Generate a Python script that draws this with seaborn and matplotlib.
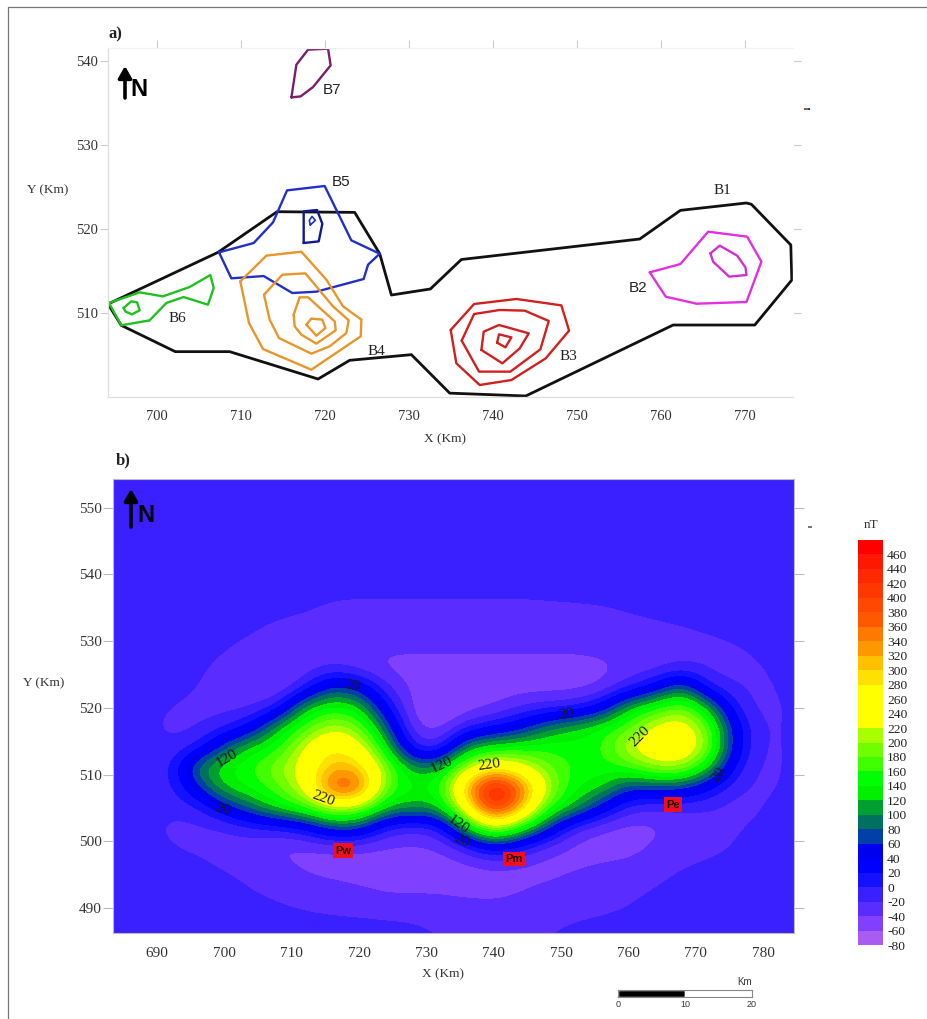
import numpy as np
import seaborn as sns
import matplotlib.pyplot as plt
from matplotlib.colors import BoundaryNorm, ListedColormap
from matplotlib.patches import FancyArrowPatch, Rectangle
from matplotlib.lines import Line2D

W, H = 928, 1019

# panel a: anomaly outlines, x and y in km
outline_x = [694.17, 707.26, 714.29, 723.53, 726.51, 727.9, 732.54, 736.23, 757.46, 762.3, 770.16, 770.75, 775.44,
             775.56, 771.15, 761.43, 743.89, 734.84, 730.28, 722.94, 719.17, 708.65, 702.18, 695.75, 694.17]
outline_y = [511.07, 517.22, 522.06, 521.98, 517.06, 512.14, 512.86, 516.37, 518.81, 522.22, 523.1, 522.94, 518.1,
             513.93, 508.57, 508.57, 500.12, 500.46, 505.04, 504.37, 502.14, 505.4, 505.4, 508.53, 511.07]
b7_x = [716.0, 717.1, 718.57, 720.67, 720.36, 717.98, 716.59]
b7_y = [535.67, 535.79, 536.9, 539.48, 541.47, 541.35, 539.56]
b5_x = [707.38, 711.51, 713.81, 715.48, 719.96, 723.13, 726.51, 725.12, 724.6, 718.97, 716.11, 712.7, 708.85]
b5_y = [517.22, 518.33, 520.79, 524.6, 525.12, 518.65, 517.06, 515.75, 514.05, 512.54, 512.38, 514.4, 514.13]
b5_in_x = [717.46, 719.25, 719.68, 719.05, 717.46]
b5_in_y = [518.33, 518.53, 520.63, 522.26, 522.1]
b5_core_x = [718.25, 718.85, 718.45, 718.13]
b5_core_y = [520.48, 521.03, 521.5, 521.03]
b6_x = [694.29, 697.94, 700.71, 703.89, 706.35, 706.75, 706.07, 703.17, 701.11, 699.13, 695.75]
b6_y = [511.19, 512.46, 511.98, 513.1, 514.52, 512.98, 510.99, 511.9, 511.19, 509.13, 508.53]
b6_in_x = [696.03, 696.94, 697.62, 697.94, 697.02, 696.27]
b6_in_y = [510.6, 511.39, 511.27, 510.32, 509.84, 510.16]
b4_1_x = [709.92, 713.02, 717.18, 720.16, 722.14, 724.33, 724.25, 718.37, 712.62, 710.95]
b4_1_y = [513.77, 516.83, 517.3, 513.97, 510.79, 509.21, 507.22, 503.25, 505.71, 508.81]
b4_2_x = [712.74, 714.92, 717.66, 720.95, 722.82, 722.54, 720.56, 718.37, 714.52, 713.41]
b4_2_y = [512.18, 514.56, 514.72, 510.79, 509.13, 507.62, 506.03, 505.16, 507.02, 509.21]
b4_3_x = [716.27, 716.98, 717.98, 721.15, 721.27, 718.97, 717.18, 716.39]
b4_3_y = [509.8, 511.87, 511.87, 509.0, 507.94, 506.35, 507.42, 508.41]
b4_4_x = [717.78, 718.37, 719.68, 720.04, 718.97]
b4_4_y = [508.61, 509.33, 509.21, 508.21, 507.3]
b3_1_x = [734.96, 737.74, 742.78, 748.13, 749.05, 746.27, 742.18, 738.41, 735.63]
b3_1_y = [507.98, 511.07, 511.67, 510.91, 507.9, 504.6, 502.02, 501.43, 504.01]
b3_2_x = [736.27, 737.74, 740.79, 743.77, 746.63, 745.63, 742.06, 738.33]
b3_2_y = [506.71, 509.88, 510.36, 510.28, 509.05, 505.67, 503.02, 503.02]
b3_3_x = [738.61, 738.89, 740.71, 744.25, 743.17, 741.11]
b3_3_y = [505.6, 507.78, 508.57, 507.58, 505.79, 504.01]
b3_4_x = [740.48, 740.71, 742.18, 741.47]
b3_4_y = [506.47, 507.46, 507.1, 505.91]
b2_x = [758.65, 762.3, 765.6, 770.24, 771.94, 770.16, 764.21, 760.56]
b2_y = [514.84, 515.83, 519.68, 519.09, 516.11, 511.31, 511.11, 511.94]
b2_in_x = [765.87, 766.98, 769.05, 770.04, 770.16, 768.1, 766.19]
b2_in_y = [517.1, 518.02, 516.83, 515.44, 514.52, 514.33, 516.11]

# panel b: field in nT, rows from north to south
grid_x = np.arange(684, 785, 4)
grid_y = np.arange(553, 486, -3)
row_553 = [-10] * 26
row_550 = [-10] * 26
row_547 = [-10] * 26
row_544 = [-10] * 26
row_541 = [-10] * 26
row_538 = [-10, -10, -10, -10, -10, -10, -10, -11, -13, -14, -14, -14, -14, -14, -14, -14, -13, -12, -11, -10, -10, -10, -10, -10, -10, -10]
row_535 = [-10, -10, -10, -10, -10, -10, -13, -17, -24, -25, -25, -25, -25, -25, -25, -25, -24, -23, -22, -18, -14, -11, -10, -10, -10, -10]
row_532 = [-10, -10, -10, -10, -12, -17, -25, -28, -29, -30, -30, -30, -30, -30, -30, -30, -30, -29, -27, -26, -24, -21, -16, -12, -10, -10]
row_529 = [-10, -10, -10, -12, -18, -26, -30, -33, -35, -36, -36, -35, -35, -35, -35, -35, -35, -35, -33, -30, -30, -29, -27, -22, -14, -10]
row_526 = [-10, -10, -11, -17, -25, -35, -42, -34, -21, -32, -46, -50, -50, -50, -50, -50, -50, -50, -47, -36, -32, -18, -26, -28, -21, -11]
row_523 = [-10, -10, -13, -20, -28, -32, -46, -5, 75, 50, -15, -47, -55, -52, -52, -50, -50, -50, -42, -8, 30, 100, -5, -20, -26, -13]
row_520 = [-10, -11, -21, -25, -28, -27, 0, 125, 150, 135, 25, -48, -72, -52, -42, -20, -10, -3, 30, 125, 160, 195, 120, -5, -29, -16]
row_517 = [-10, -14, -26, -24, -6, 30, 125, 170, 220, 190, 85, -40, -50, -2, 20, 45, 100, 125, 150, 175, 235, 255, 185, 30, -27, -16]
row_514 = [-8, -9, -17, 0, 80, 135, 150, 230, 285, 250, 135, -5, -20, 110, 140, 150, 155, 150, 155, 225, 265, 270, 200, 30, -28, -16]
row_511 = [-8, -9, -12, 105, 140, 160, 200, 240, 320, 310, 200, 105, 115, 215, 280, 240, 185, 155, 150, 160, 205, 210, 125, 5, -28, -16]
row_508 = [-8, -9, -11, 50, 130, 145, 175, 230, 385, 385, 175, 145, 150, 320, 480, 370, 215, 140, 130, 60, 65, 60, 20, -18, -26, -15]
row_505 = [-8, -9, -17, -8, 40, 90, 135, 165, 220, 205, 120, 110, 115, 260, 440, 330, 160, 120, 45, -15, -23, -20, -20, -30, -20, -10]
row_502 = [-8, -13, -25, -26, -24, -10, -3, 15, 70, 70, -8, -22, -8, 120, 225, 150, 65, -22, -42, -50, -45, -33, -30, -22, -14, -10]
row_499 = [-8, -10, -19, -24, -28, -32, -46, -47, -43, -43, -45, -44, -43, -15, 30, 0, -35, -50, -50, -50, -35, -30, -27, -18, -10, -10]
row_496 = [-8, -9, -10, -14, -22, -28, -30, -44, -48, -50, -50, -50, -50, -50, -45, -48, -50, -42, -36, -32, -27, -20, -14, -10, -10, -10]
row_493 = [-8, -9, -10, -10, -11, -21, -27, -30, -34, -38, -44, -44, -43, -47, -48, -42, -35, -30, -28, -25, -20, -13, -10, -10, -10, -10]
row_490 = [-8, -9, -10, -10, -10, -12, -17, -22, -26, -28, -30, -31, -33, -33, -35, -33, -30, -29, -26, -20, -13, -10, -10, -10, -10, -10]
row_487 = [-8, -9, -10, -10, -10, -10, -10, -10, -10, -11, -13, -15, -21, -22, -23, -22, -21, -16, -11, -10, -10, -10, -10, -10, -10, -10]

levels = list(range(-80, 481, 20))
band_colors = ["#a85cf2", "#8040ff", "#5a2cff", "#3a20ff", "#1510ff", "#0000ff", "#0000f0", "#0040a8", "#007060",
               "#00a030", "#00f000", "#00ff00", "#40ff00", "#70ff00", "#a8ff00", "#ffff00", "#ffff00", "#ffff00",
               "#ffe000", "#ffc000", "#ff9800", "#ff7800", "#ff5800", "#ff4800", "#ff3800", "#ff2800", "#ff1800",
               "#ff0000"]

contour_text = ["20", "120", "20", "220", "120", "120", "20", "220", "20", "220", "20"]
contour_x = [719.0, 700.3, 699.7, 714.7, 732.2, 734.7, 735.3, 739.3, 750.8, 761.8, 773.5]
contour_y = [523.3, 512.4, 504.8, 506.4, 511.5, 502.5, 500.0, 511.5, 519.0, 515.7, 510.0]
contour_rot = [-10, 30, -15, -20, 25, -35, -25, 8, 10, 45, 55]

pole_names = ["Pw", "Pm", "Pe"]
pole_x = [717.6, 743.0, 766.6]
pole_y = [498.6, 497.4, 505.5]

scale_stops = [0, 10, 20]


def px_axes(fig, left, top, right, bottom):
    return fig.add_axes([left / W, 1 - bottom / H, (right - left) / W, (bottom - top) / H])


def fig_text(fig, x, y, s, **kw):
    kw.setdefault("ha", "center")
    kw.setdefault("va", "center")
    fig.text(x / W, 1 - y / H, s, **kw)


def north_arrow(fig, x, y_tip, y_tail, nx, ny):
    fig.add_artist(FancyArrowPatch(
        (x / W, 1 - y_tail / H), (x / W, 1 - y_tip / H), transform=fig.transFigure,
        arrowstyle="-|>,head_width=4,head_length=7", lw=2.6, color="black", shrinkA=0, shrinkB=0))
    fig_text(fig, nx, ny, "N", family="Liberation Sans", fontsize=17, fontweight="bold", color="black")


def loop(ax, xs, ys, color, lw=1.7):
    # close the ring and keep the drawing order
    xs = list(xs) + [xs[0]]
    ys = list(ys) + [ys[0]]
    sns.lineplot(x=xs, y=ys, sort=False, estimator=None, color=color, lw=lw, ax=ax, legend=False)


sns.set_theme(style="white")
plt.rcParams["font.family"] = ["Liberation Serif", "DejaVu Sans"]
plt.rcParams["axes.unicode_minus"] = False

fig = plt.figure(figsize=(W / 100, H / 100), dpi=100, facecolor="white")

# frame round the figure
fig.add_artist(Line2D([8 / W, 8 / W], [0, 1 - 7 / H], color="#777777", lw=0.9))
fig.add_artist(Line2D([8 / W, 1], [1 - 7 / H, 1 - 7 / H], color="#777777", lw=0.9))

# panel a
ax_a = px_axes(fig, 108, 48, 793, 397)
loop(ax_a, outline_x, outline_y, "#111111", 2.0)
loop(ax_a, b7_x, b7_y, "#7a1f6e")
loop(ax_a, b5_x, b5_y, "#2030c8")
loop(ax_a, b5_in_x, b5_in_y, "#101a90")
loop(ax_a, b5_core_x, b5_core_y, "#2030c8", 1.2)
loop(ax_a, b6_x, b6_y, "#20c020")
loop(ax_a, b6_in_x, b6_in_y, "#20c020")
for xs, ys in [(b4_1_x, b4_1_y), (b4_2_x, b4_2_y), (b4_3_x, b4_3_y), (b4_4_x, b4_4_y)]:
    loop(ax_a, xs, ys, "#e8952a")
for xs, ys in [(b3_1_x, b3_1_y), (b3_2_x, b3_2_y), (b3_3_x, b3_3_y), (b3_4_x, b3_4_y)]:
    loop(ax_a, xs, ys, "#d02020")
loop(ax_a, b2_x, b2_y, "#e030e0")
loop(ax_a, b2_in_x, b2_in_y, "#d030d0")
ax_a.set_xlim(694.17, 775.7)
ax_a.set_ylim(500.0, 541.55)
ax_a.set_xticks(np.arange(700, 771, 10))
ax_a.set_yticks(np.arange(510, 541, 10))
ax_a.tick_params(axis="both", which="both", colors="#cccccc", length=6, width=0.8, labelsize=10.5,
                 labelcolor="#333333", top=True, right=True, left=True, bottom=False, pad=1)
ax_a.tick_params(axis="x", pad=3)
for side, col in [("left", "#dddddd"), ("bottom", "#dddddd"), ("top", "#f2f2f2"), ("right", "#ffffff")]:
    ax_a.spines[side].set_color(col)
    ax_a.spines[side].set_linewidth(0.9)
ax_a.set_xlabel("")
ax_a.set_ylabel("")

serif = dict(fontsize=11, color="#222222")
sans = dict(fontsize=11, color="#222222", family="Liberation Sans")
fig_text(fig, 722, 191, "B1", **serif)
fig_text(fig, 638, 288, "B2", **sans)
fig_text(fig, 568, 356, "B3", **serif)
fig_text(fig, 376, 351, "B4", **serif)
fig_text(fig, 341, 182, "B5", **sans)
fig_text(fig, 177, 319, "B6", **serif)
fig_text(fig, 332, 90, "B7", **sans)
fig_text(fig, 115, 34, "a)", fontsize=12, fontweight="bold", color="#222222")
fig_text(fig, 48, 190, "Y (Km)", fontsize=9.5, color="#333333")
fig_text(fig, 445, 439, "X (Km)", fontsize=9.5, color="#333333")
north_arrow(fig, 125, 66, 98, 139, 89)

# panel b
ax_b = px_axes(fig, 113, 479, 794, 933)
field = np.array([row_553, row_550, row_547, row_544, row_541, row_538, row_535, row_532, row_529, row_526, row_523,
                  row_520, row_517, row_514, row_511, row_508, row_505, row_502, row_499, row_496, row_493, row_490,
                  row_487], dtype=float)
cmap = ListedColormap(band_colors)
norm = BoundaryNorm(levels, cmap.N, clip=True)
im = ax_b.imshow(field, cmap=cmap, norm=norm, aspect="auto", interpolation="bicubic", interpolation_stage="data",
                 extent=[grid_x[0] - 2, grid_x[-1] + 2, grid_y[-1] - 1.5, grid_y[0] + 1.5])
ax_b.set_xlim(683.46, 784.6)
ax_b.set_ylim(486.25, 554.3)
ax_b.set_xticks(np.arange(690, 781, 10))
ax_b.set_yticks(np.arange(490, 551, 10))
ax_b.tick_params(axis="both", colors="#bbbbbb", length=7, width=0.8, labelsize=11, labelcolor="#333333",
                 right=True, left=True, bottom=False, pad=1)
ax_b.tick_params(axis="x", pad=3)
for spine in ax_b.spines.values():
    spine.set_color("#bbbbbb")
    spine.set_linewidth(0.8)

for s, x, y, r in zip(contour_text, contour_x, contour_y, contour_rot):
    ax_b.text(x, y, s, rotation=r, ha="center", va="center", fontsize=11, color="#1a1a1a", rotation_mode="anchor")
for s, x, y in zip(pole_names, pole_x, pole_y):
    ax_b.text(x, y, s, ha="center", va="center", fontsize=8, fontweight="bold", family="Liberation Sans",
              color="#220000", bbox=dict(fc="#ee1020", ec="none", pad=1.5))

fig_text(fig, 123, 460, "b)", fontsize=12, fontweight="bold", color="#222222")
fig_text(fig, 44, 683, "Y (Km)", fontsize=9.5, color="#333333")
fig_text(fig, 443, 974, "X (Km)", fontsize=9.5, color="#333333")
north_arrow(fig, 131, 489, 527, 146, 516)

# colour scale
cax = px_axes(fig, 858, 540, 883, 945)
cbar = fig.colorbar(im, cax=cax, ticks=levels[:-1], spacing="proportional", drawedges=False)
cbar.outline.set_visible(False)
cbar.ax.minorticks_off()
cbar.ax.tick_params(which="both", length=0, labelsize=9.7, labelcolor="#222222", pad=3)
fig_text(fig, 871, 525, "nT", fontsize=9.5, color="#333333")

# scale bar
ax_s = px_axes(fig, 618, 990, 752, 997)
sns.barplot(x=[scale_stops[1] - scale_stops[0]], y=[0], left=[scale_stops[0]], orient="h", color="black",
            saturation=1, width=1, ax=ax_s)
sns.barplot(x=[scale_stops[2] - scale_stops[1]], y=[0], left=[scale_stops[1]], orient="h", color="white",
            saturation=1, width=1, ax=ax_s)
ax_s.set_xlim(scale_stops[0], scale_stops[2])
ax_s.set_ylim(0.5, -0.5)
ax_s.set_yticks([])
ax_s.set_ylabel("")
ax_s.set_xticks(scale_stops)
ax_s.tick_params(axis="x", length=0, labelsize=6.5, labelcolor="#333333", pad=2)
for label in ax_s.get_xticklabels():
    label.set_family("Liberation Sans")
for spine in ax_s.spines.values():
    spine.set_color("#888888")
    spine.set_linewidth(0.8)
fig_text(fig, 745, 982, "Km", fontsize=7, family="Liberation Sans", color="#333333")

# tiny specks left over in the map margins
for px, py, col in [(804, 110, "#d03030"), (806, 110, "#30a030"), (808, 110, "#3030d0"),
                    (808, 528, "#777777"), (810, 528, "#777777")]:
    fig.add_artist(Rectangle((px / W, 1 - py / H), 2 / W, 2 / H, transform=fig.transFigure, color=col, lw=0))

fig.savefig("out.png", dpi=100)
